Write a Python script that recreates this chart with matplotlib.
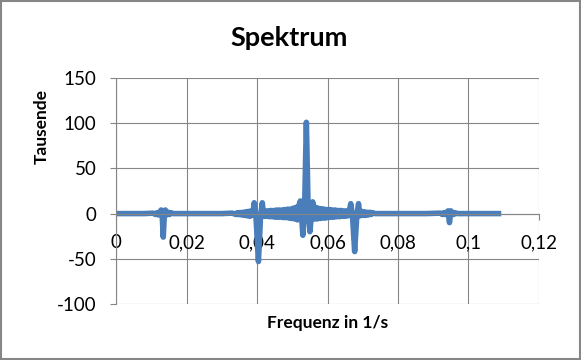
from matplotlib import pyplot as plt
from matplotlib.patches import Rectangle

# Werte (Frequenz in 1/s, Amplitude in Tausend)
frequenz = [
    # Anfang
    0, 0.004, 0.008, 0.0105,
    # Spitze bei 0,0134
    0.0112, 0.0116, 0.0120, 0.0124, 0.0128, 0.0131, 0.0134, 0.0137, 0.0140, 0.0144,
    0.0148, 0.0152, 0.0156, 0.0162,
    # ruhig
    0.020, 0.025, 0.030, 0.033,
    # Spitze bei 0,04
    0.0340, 0.0344, 0.0348, 0.0352, 0.0356, 0.0360, 0.0364, 0.0368, 0.0372, 0.0376,
    0.0380, 0.0384, 0.0388, 0.0392, 0.0397, 0.0404, 0.0410, 0.0415, 0.0419,
    # Schwingen bis zur Hauptspitze
    0.0423, 0.0427, 0.0431, 0.0435, 0.0439, 0.0443, 0.0447, 0.0451, 0.0455, 0.0459,
    0.0463, 0.0467, 0.0471, 0.0475, 0.0479, 0.0483, 0.0487, 0.0491, 0.0495, 0.0499,
    0.0503, 0.0507, 0.0511, 0.0515, 0.0519, 0.0523, 0.0527,
    # Hauptspitze
    0.0530, 0.0535, 0.0540, 0.0545, 0.0550, 0.0554, 0.0558, 0.0562,
    # Schwingen danach
    0.0566, 0.0570, 0.0574, 0.0578, 0.0582, 0.0586, 0.0590, 0.0594, 0.0598, 0.0602,
    0.0606, 0.0610, 0.0614, 0.0618, 0.0622, 0.0626, 0.0630, 0.0634, 0.0638, 0.0642,
    0.0646, 0.0650, 0.0654, 0.0658, 0.0662,
    # Spitze bei 0,0677
    0.0666, 0.0671, 0.0677, 0.0683, 0.0688, 0.0692, 0.0696, 0.0700, 0.0704, 0.0708,
    0.0712, 0.0716, 0.0720, 0.0724, 0.0728, 0.0735,
    # ruhig
    0.080, 0.088, 0.092,
    # Spitze bei 0,0946
    0.0926, 0.0930, 0.0934, 0.0938, 0.0942, 0.0946, 0.0950, 0.0954, 0.0958, 0.0962,
    0.0968,
    # Ende
    0.102, 0.1085]

amplitude = [
    0, 0, 0, 0.5,
    -1, 1, -1.5, 1.5, 4, -2, -26, -2, 4, -1.5,
    1.5, -1, 1, 0,
    0, 0, 0, 0.5,
    -1, 1, -1.2, 1.2, -1.5, 1.5, -2, 2, -2.5, 2.5,
    -3, 3, -2, 12, -3, -53, -3, 12, -3,
    3, -3, 3, -3.5, 3.5, -3.5, 3.5, -4, 4, -4,
    4, -4, 4, -4.5, 4.5, -4.5, 5, -5, 5, -5.5,
    6, -6, 7, -7, 9, 14, -6,
    -24, 6, 101, 6, -20, -4, 13, -6,
    7, -6, 6, -5.5, 5.5, -5, 5, -5, 4.5, -4.5,
    4.5, -4, 4, -4, 4, -3.5, 3.5, -3.5, 3.5, -3,
    3, -3, 3, -2.5, 3,
    11, -3, -42, -3, 11, -2.5, 2.5, -2, 2, -2,
    1.5, -1.5, 1.5, -1, 1, 0,
    0, 0, 0.5,
    -1, 1, -1, 1.5, 3, -10, 3, 1, -1, 1,
    0,
    0, 0]

grau = '#868686'
blau = '#4a7ebb'

plt.rcParams['font.family'] = ['Lato', 'DejaVu Sans']
plt.rcParams['axes.unicode_minus'] = False

fig = plt.figure(figsize=(5.81, 3.6), dpi=100)
ax = fig.add_axes([0.1997, 0.1556, 0.728, 0.6277])

ax.plot(frequenz, amplitude, color=blau, linewidth=4, solid_joinstyle='round')

ax.set_xlim(0, 0.12)
ax.set_ylim(-100, 150)
ax.set_xticks([0, 0.02, 0.04, 0.06, 0.08, 0.1, 0.12])
ax.set_xticklabels(['0', '0,02', '0,04', '0,06', '0,08', '0,1', '0,12'])
ax.set_yticks([-100, -50, 0, 50, 100, 150])

ax.grid(True, color=grau, linewidth=0.8)
ax.set_axisbelow(True)
for s in ['top', 'right']:
    ax.spines[s].set_visible(False)
ax.spines['left'].set_color(grau)
ax.spines['bottom'].set_color(grau)
ax.spines['bottom'].set_position(('data', 0))
ax.tick_params(axis='both', colors=grau, labelcolor='black', labelsize=13.5, length=4)
ax.tick_params(axis='x', pad=11)
ax.tick_params(axis='y', pad=10)

fig.text(0.498, 0.894, 'Spektrum', ha='center', va='center', fontsize=19.5, fontweight='bold')
fig.text(0.5637, 0.103, 'Frequenz in 1/s', ha='center', va='center', fontsize=12.5, fontweight='bold')
fig.text(0.072, 0.65, 'Tausende', ha='center', va='center', rotation=90, fontsize=12.5, fontweight='bold')

fig.patches.append(Rectangle((0.001, 0.002), 0.997, 0.995, transform=fig.transFigure,
                             fill=False, edgecolor=grau, linewidth=1.5))

fig.savefig('out.png', dpi=100)
